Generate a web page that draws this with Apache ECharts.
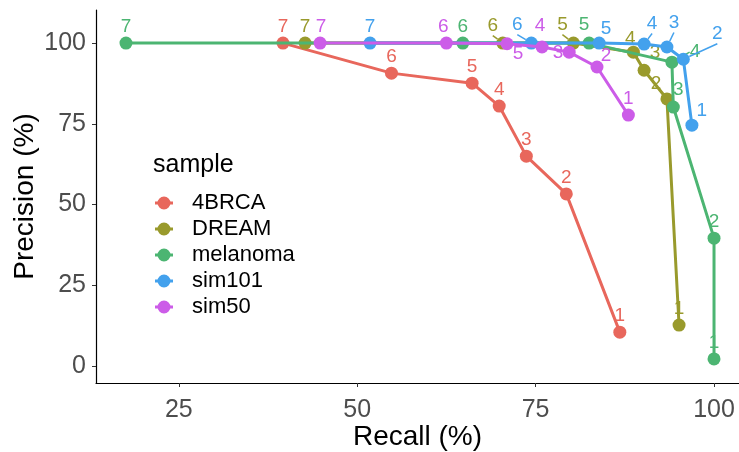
<!DOCTYPE html>
<html>
<head>
<meta charset="utf-8">
<script src="https://cdn.jsdelivr.net/npm/echarts@6/dist/echarts.min.js"></script>
<style>
  html, body { margin: 0; padding: 0; background: #fff; }
  #chart { width: 739px; height: 452px; }
</style>
</head>
<body>
<div id="chart"></div>
<script>
// point labels (same for every sample)
const pointLabels = ['7', '6', '5', '4', '3', '2', '1']
const sampleNames = ['4BRCA', 'DREAM', 'melanoma', 'sim101', 'sim50']
const xTicks = [25, 50, 75, 100]
const yTicks = [0, 25, 50, 75, 100]

// recall / precision per sample, in the order of pointLabels
const recall4BRCA = [39.6, 54.8, 66.1, 69.9, 73.7, 79.3, 86.8]
const precision4BRCA = [100, 90.7, 87.6, 80.5, 65.0, 53.3, 10.5]
const recallDREAM = [42.7, 70.4, 80.3, 88.7, 90.2, 93.4, 95.1]
const precisionDREAM = [100, 100, 100, 97.2, 91.6, 82.7, 12.7]
const recallMelanoma = [17.6, 64.8, 82.5, 94.1, 94.3, 100, 100]
const precisionMelanoma = [100, 100, 100, 94.1, 80.2, 39.6, 2.2]
const recallSim101 = [51.8, 74.4, 83.9, 90.2, 93.4, 95.7, 96.9]
const precisionSim101 = [100, 100, 100, 99.7, 98.8, 95.0, 74.6]
const recallSim50 = [44.8, 62.5, 71.0, 75.9, 79.7, 83.6, 88.0]
const precisionSim50 = [100, 100, 99.8, 98.8, 97.2, 92.6, 77.7]

const recalls = [recall4BRCA, recallDREAM, recallMelanoma, recallSim101, recallSim50]
const precisions = [precision4BRCA, precisionDREAM, precisionMelanoma, precisionSim101, precisionSim50]

// colours (ggplot hue palette, as seen)
const colors = ['#e8675c', '#999a2c', '#4cb572', '#43a1ed', '#cc5ce8']

// label nudges [dx, dy] (text repel in the original)
const labelNudge = [
  [[0, -16], [0, -16], [0, -16], [0, -16], [0, -16], [0, -16], [0, -16]],
  [[0, -16], [-10, -17], [-11, -18], [-3, -13], [11, -17], [-11, -15], [0, -16]],
  [[0, -16], [0, -16], [-5, -18], [23, -10], [5, -17], [0, -16], [0, -16]],
  [[0, -16], [-14, -18], [7, -14], [8, -20], [7, -24], [34, -25], [10, -14]],
  [[1, -16], [-3, -16], [11, 10], [-2, -21], [-11, 1], [9, -11], [0, -16]]
]
// which labels get a repel segment
const labelSegment = [
  [0, 0, 0, 0, 0, 0, 0],
  [0, 1, 1, 0, 0, 0, 0],
  [0, 0, 0, 1, 0, 0, 0],
  [0, 1, 0, 1, 1, 1, 0],
  [0, 0, 0, 0, 0, 0, 0]
]

const chart = echarts.init(document.getElementById('chart'))

const series = sampleNames.map((name, s) => ({
  name: name,
  type: 'line',
  symbol: 'circle',
  symbolSize: 13,
  lineStyle: { width: 3, color: colors[s] },
  itemStyle: { color: colors[s] },
  z: 2 + s,
  label: {
    show: true,
    position: 'inside',
    color: colors[s],
    fontSize: 19,
    fontFamily: 'Liberation Sans',
    formatter: p => pointLabels[p.dataIndex]
  },
  labelLayout: p => ({
    dx: labelNudge[s][p.dataIndex][0],
    dy: labelNudge[s][p.dataIndex][1]
  }),
  labelLine: {
    show: false,
    lineStyle: { color: colors[s], width: 1.5 }
  },
  data: recalls[s].map((x, i) => ({
    value: [x, precisions[s][i]],
    labelLine: { show: labelSegment[s][i] === 1 }
  }))
}))

const option = {
  animation: false,
  backgroundColor: '#fff',
  color: colors,
  textStyle: { fontFamily: 'Liberation Sans' },
  title: {
    text: 'sample',
    left: 148,
    top: 148,
    textStyle: { fontSize: 25, fontWeight: 'normal', color: '#000', fontFamily: 'Liberation Sans' }
  },
  legend: {
    orient: 'vertical',
    left: 150,
    top: 187,
    itemWidth: 18,
    itemHeight: 14,
    itemGap: 4,
    icon: 'path://M0,5.5H18V8.5H0Z M9,0.5A6.5,6.5 0 1,1 8.99,0.5Z',
    textStyle: { fontSize: 22, color: '#000', fontFamily: 'Liberation Sans', padding: [0, 0, 0, 14] },
    data: sampleNames
  },
  grid: {
    left: 96,
    right: 0,
    top: 10,
    bottom: 69,
    containLabel: false,
    outerBoundsMode: 'none'
  },
  xAxis: {
    type: 'value',
    min: 13.4,
    max: 103.5,
    name: 'Recall (%)',
    nameLocation: 'middle',
    nameGap: 40,
    nameMoveOverlap: false,
    nameTextStyle: { fontSize: 28, color: '#000' },
    splitLine: { show: false },
    axisLine: { show: true, onZero: false, lineStyle: { color: '#000', width: 1.2 } },
    axisTick: { show: true, length: 4, lineStyle: { color: '#333' }, customValues: xTicks },
    axisLabel: { fontSize: 25, color: '#4d4d4d', margin: 15, customValues: xTicks }
  },
  yAxis: {
    type: 'value',
    min: -5.25,
    max: 110.25,
    name: 'Precision (%)',
    nameLocation: 'middle',
    nameGap: 57,
    nameMoveOverlap: false,
    nameTextStyle: { fontSize: 28, color: '#000' },
    splitLine: { show: false },
    axisLine: { show: true, onZero: false, lineStyle: { color: '#000', width: 1.2 } },
    axisTick: { show: true, length: 4, lineStyle: { color: '#333' }, customValues: yTicks },
    axisLabel: { fontSize: 25, color: '#4d4d4d', margin: 10, customValues: yTicks }
  },
  series: series
}

chart.setOption(option)
</script>
</body>
</html>
